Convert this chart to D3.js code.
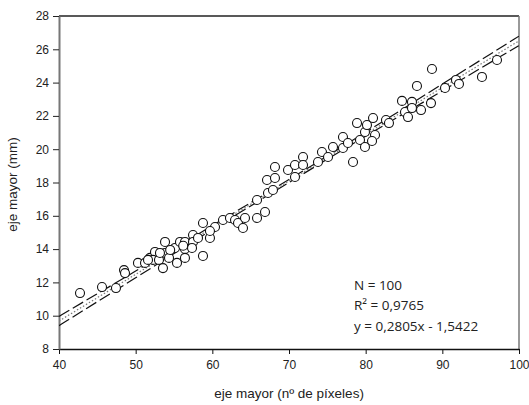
<!DOCTYPE html>
<html>
<head>
<meta charset="utf-8">
<script src="https://cdn.jsdelivr.net/npm/d3@7"></script>
<style>
  html, body { margin: 0; padding: 0; background: #fff; }
  svg { display: block; }
</style>
</head>
<body>
<svg id="chart" width="529" height="405"></svg>
<script>
// ---- data ----
const xValues = [42.74,45.61,47.43,48.48,48.61,50.30,51.22,51.87,52.52,52.26,53.04,53.56,53.83,53.83,54.35,55.13,55.39,55.78,56.43,56.43,56.43,57.48,57.48,57.35,58.13,58.78,58.78,59.69,60.35,51.61,53.17,59.69,61.39,62.30,62.96,63.35,64.00,64.26,65.83,65.83,66.87,67.26,67.91,67.13,68.17,68.17,69.87,70.78,70.78,71.83,71.83,73.78,74.30,75.09,75.74,77.04,77.04,77.69,78.35,78.87,79.26,79.91,80.17,79.91,80.96,81.22,80.83,82.65,83.04,84.74,85.13,85.52,86.04,86.04,86.69,87.22,88.52,88.65,90.35,91.78,92.17,95.17,97.13,54.50,56.20];
const yValues = [11.36,11.72,11.66,12.74,12.56,13.17,13.17,13.47,13.83,13.35,13.35,12.86,14.43,13.77,13.47,14.07,13.17,14.43,14.43,14.01,13.47,14.85,14.43,14.07,14.67,15.57,13.59,14.67,15.33,13.35,13.77,15.09,15.75,15.87,15.75,15.57,15.27,15.87,16.95,15.87,16.23,17.37,17.55,18.15,18.27,18.93,18.75,19.05,18.33,19.53,19.05,19.23,19.83,19.53,20.13,20.73,20.07,20.37,19.23,21.57,20.55,21.03,21.45,20.13,21.87,20.85,20.49,21.75,21.57,22.90,22.23,21.93,22.84,22.47,23.80,22.35,22.77,24.82,23.68,24.16,23.92,24.34,25.36,13.95,14.20];

// regression line (y = 0,2805x - 1,5422) endpoints
const regX = [40, 100];
const regY = [9.68, 26.51];
// band lines
const bandX = [40, 50, 60, 70, 80, 90, 100];
const bandUpper = [9.96, 12.68, 15.41, 18.18, 21.02, 23.91, 26.79];
const bandLower = [9.40, 12.28, 15.17, 18.00, 20.78, 23.50, 26.23];

const xTicks = [40, 50, 60, 70, 80, 90, 100];
const yTicks = [8, 10, 12, 14, 16, 18, 20, 22, 24, 26, 28];
const xTitle = "eje mayor (nº de píxeles)";
const yTitle = "eje mayor (mm)";
const statLines = ["N = 100", "R² = 0,9765", "y = 0,2805x - 1,5422"];

// ---- drawing ----
const svg = d3.select("#chart");
const L = 59, R = 519, T = 16, B = 349;
const x = d3.scaleLinear().domain([40, 100]).range([L, R]);
const y = d3.scaleLinear().domain([8, 28]).range([B, T]);
const font = "'Liberation Sans', Arial, sans-serif";

// clip for lines
svg.append("defs").append("clipPath").attr("id", "clip")
  .append("rect").attr("x", L).attr("y", T).attr("width", R - L).attr("height", B - T);

// frame: top and right
svg.append("line").attr("x1", L).attr("x2", R).attr("y1", T).attr("y2", T)
  .attr("stroke", "#222").attr("stroke-width", 1.5);
svg.append("line").attr("x1", R).attr("x2", R).attr("y1", T).attr("y2", B)
  .attr("stroke", "#777").attr("stroke-width", 1.5);

// axes
const xAxis = d3.axisBottom(x).tickValues(xTicks).tickSize(5).tickSizeOuter(0).tickPadding(6);
const yAxis = d3.axisLeft(y).tickValues(yTicks).tickSize(6).tickSizeOuter(0).tickPadding(4);

const gx = svg.append("g").attr("transform", `translate(0,${B})`).call(xAxis);
gx.select(".domain").attr("stroke", "#111").attr("stroke-width", 1.5);
gx.selectAll(".tick line").attr("stroke", "#111");
gx.selectAll("text").attr("font-family", font).attr("font-size", 12).attr("fill", "#222");

const gy = svg.append("g").attr("transform", `translate(${L},0)`).call(yAxis);
gy.select(".domain").attr("stroke", "#777").attr("stroke-width", 2);
gy.selectAll(".tick line").attr("stroke", "#222");
gy.selectAll("text").attr("font-family", font).attr("font-size", 12).attr("fill", "#222");

// lines
const lineGen = d3.line().x(d => x(d[0])).y(d => y(d[1]));
const curveGen = d3.line().x(d => x(d[0])).y(d => y(d[1])).curve(d3.curveMonotoneX);
const lg = svg.append("g").attr("clip-path", "url(#clip)");
lg.append("path").datum(d3.zip(bandX, bandUpper)).attr("d", curveGen)
  .attr("fill", "none").attr("stroke", "#111").attr("stroke-width", 1.2).attr("stroke-dasharray", "12,4");
lg.append("path").datum(d3.zip(bandX, bandLower)).attr("d", curveGen)
  .attr("fill", "none").attr("stroke", "#111").attr("stroke-width", 1.2).attr("stroke-dasharray", "12,4");
lg.append("path").datum(d3.zip(regX, regY)).attr("d", lineGen)
  .attr("fill", "none").attr("stroke", "#777").attr("stroke-width", 1.2).attr("stroke-dasharray", "1.5,2");

// points
svg.append("g").selectAll("circle").data(d3.zip(xValues, yValues)).join("circle")
  .attr("cx", d => x(d[0])).attr("cy", d => y(d[1])).attr("r", 4.5)
  .attr("fill", "#fff").attr("stroke", "#111").attr("stroke-width", 1.1);

// titles
svg.append("text").attr("x", (L + R) / 2 - 0).attr("y", 398).attr("text-anchor", "middle")
  .attr("font-family", font).attr("font-size", 13.5).attr("fill", "#222").text(xTitle);
svg.append("text").attr("transform", `translate(17,${(T + B) / 2 + 2}) rotate(-90)`).attr("text-anchor", "middle")
  .attr("font-family", font).attr("font-size", 13.5).attr("fill", "#222").text(yTitle);

// stats annotation
const statY = [290, 310, 331];
svg.append("g").selectAll("text").data(statLines).join("text")
  .attr("x", 354).attr("y", (d, i) => statY[i])
  .attr("font-family", "'Open Sans', sans-serif").attr("font-size", 13.5).attr("fill", "#222")
  .text(d => d);
</script>
</body>
</html>
